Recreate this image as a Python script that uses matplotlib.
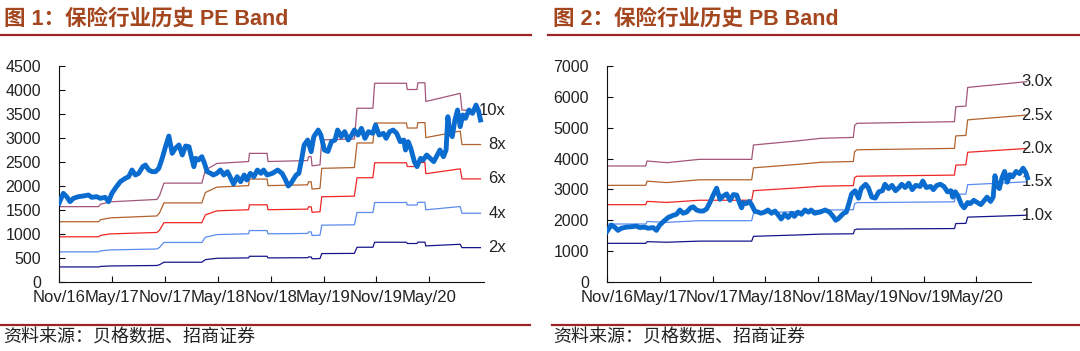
import numpy as np
import matplotlib.pyplot as plt
from matplotlib.lines import Line2D

plt.rcParams['font.family'] = ['Liberation Sans', 'Noto Sans CJK SC', 'DejaVu Sans']

# months counted from Nov/2016
tick_labels = ["Nov/16", "May/17", "Nov/17", "May/18",
               "Nov/18", "May/19", "Nov/19", "May/20"]

# insurance index (same series in both charts)
index_months = [0.0, 0.49, 0.87, 1.25, 1.63, 2.2, 2.77, 3.34, 3.72, 4.29,
                4.67, 5.24, 5.62, 6.0, 6.38, 6.95, 7.52, 7.9, 8.28, 8.66,
                9.04, 9.5, 9.8, 10.18, 10.56, 10.94, 11.32, 11.7, 12.08, 12.46,
                12.84, 13.2, 13.6, 13.98, 14.36, 14.74, 15.1, 15.3, 15.5, 15.8,
                16.2, 16.5, 16.8, 17.2, 17.5, 17.9, 18.3, 18.7, 19.1, 19.4,
                19.8, 20.2, 20.6, 21.0, 21.3, 21.7, 22.1, 22.5, 22.9, 23.2,
                23.6, 24.2, 24.8, 25.3, 25.7, 26.0, 26.3, 26.9, 27.2, 27.5,
                27.8, 28.2, 28.6, 28.9, 29.4, 29.7, 30.1, 30.5, 30.9, 31.3,
                31.6, 32.0, 32.4, 32.8, 33.2, 33.5, 33.9, 34.3, 34.7, 35.1,
                35.6, 35.9, 36.3, 36.8, 37.1, 37.5, 37.9, 38.3, 38.7, 39.1,
                39.3, 39.6, 39.9, 40.3, 40.6, 41.0, 41.3, 41.7, 42.1, 42.5,
                42.8, 43.2, 43.6, 43.9, 44.1, 44.3, 44.6, 44.9, 45.2, 45.5,
                45.8, 46.1, 46.5, 46.9, 47.3, 47.6, 47.8]
index_values = [1639, 1847, 1778, 1673, 1743, 1778, 1792, 1812, 1764, 1778,
                1743, 1764, 1673, 1847, 1951, 2090, 2160, 2194, 2333, 2229,
                2264, 2403, 2437, 2333, 2299, 2299, 2368, 2576, 2819, 3041,
                2680, 2785, 2854, 2646, 2833, 2819, 2541, 2403, 2576, 2541,
                2611, 2472, 2299, 2264, 2229, 2264, 2333, 2229, 2299, 2194,
                2042, 2194, 2090, 2229, 2125, 2264, 2194, 2333, 2264, 2333,
                2229, 2264, 2333, 2264, 2125, 2000, 2055, 2229, 2264, 2541,
                2854, 2958, 2715, 3028, 3166, 3062, 2750, 2720, 2923, 2958,
                3166, 3028, 3132, 2958, 3062, 3166, 3062, 3201, 2993, 3132,
                3097, 3271, 3062, 3097, 2993, 3132, 3166, 3097, 2923, 2958,
                2750, 2923, 2785, 2507, 2403, 2576, 2541, 2646, 2576, 2507,
                2611, 2750, 2611, 2750, 3444, 3167, 3028, 3375, 3583, 3236,
                3479, 3410, 3583, 3514, 3687, 3548, 3375]

# PE band: earnings base, bands are multiples of it
pe_months = [0, 4.5, 4.7, 5.8, 11.1, 11.4, 11.9, 16.2, 16.6, 17.9, 21.5,
             21.6, 23.6, 23.7, 28.2, 28.3, 28.6, 28.7, 29.6, 29.8, 33.5,
             33.8, 35.6, 35.8, 39.4, 39.5, 40.6, 40.7, 41.5, 41.6, 45.5,
             45.7, 47.8]
pe_base = [157, 157, 162, 167, 172, 180, 206, 206, 233, 247, 251,
           268, 268, 251, 253, 261, 261, 242, 244, 296, 298,
           362, 362, 414, 414, 401, 401, 415, 415, 376, 393,
           358, 358]
pe_multiples = [2, 4, 6, 8, 10]
pe_labels = ["2x", "4x", "6x", "8x", "10x"]

# PB band: book value base
pb_months = [0, 4.4, 4.55, 6.8, 10.5, 16.45, 16.65, 21.8, 24.3, 28.0,
             28.15, 28.4, 39.5, 39.65, 40.8, 41.0, 47.7]
pb_base = [1253, 1253, 1307, 1289, 1325, 1325, 1480, 1526, 1552, 1562,
           1690, 1714, 1732, 1894, 1900, 2102, 2164]
pb_multiples = [1.0, 1.5, 2.0, 2.5, 3.0]
pb_labels = ["1.0x", "1.5x", "2.0x", "2.5x", "3.0x"]

band_colors = ["#15158A", "#5A8CEE", "#F02626", "#B2622E", "#A2567A"]
index_color = "#0A6CCF"
title_color = "#A4461E"
rule_color = "#9C2525"


def draw_band(ax, base_months, base_vals, multiples, labels, ymax, ystep):
    """
    Draws the band lines, the index and the band labels on one axes
    """
    base_vals = np.array(base_vals, dtype=float)
    for mult, lab, col in zip(multiples, labels, band_colors):
        band = base_vals * mult
        ax.plot(base_months, band, color=col, lw=0.9, zorder=2)
        ax.text(50.7, band[-1], lab, ha="right", va="center",
                fontsize=12, color="#222222")

    ax.plot(index_months, index_values, color=index_color, lw=3.5,
            solid_joinstyle="round", zorder=3)

    ax.set_xlim(0, 48.2)
    ax.set_ylim(0, ymax)
    ax.set_yticks(np.arange(0, ymax + 1, ystep))
    ax.set_xticks(np.arange(0, 43, 6))
    ax.set_xticklabels(tick_labels)

    for side in ["top", "right"]:
        ax.spines[side].set_visible(False)
    for side in ["left", "bottom"]:
        ax.spines[side].set_linewidth(0.8)
        ax.spines[side].set_color("#111111")

    ax.tick_params(axis="y", direction="in", length=4, width=0.8,
                   labelsize=11.5, pad=13, colors="#111111",
                   labelcolor="#222222")
    ax.tick_params(axis="x", direction="in", length=4, width=0.8,
                   labelsize=12, pad=6, colors="#111111",
                   labelcolor="#222222")


fig = plt.figure(figsize=(10.8, 3.51), dpi=100)

ax1 = fig.add_axes([59 / 1080, 69 / 351, 425 / 1080, 216 / 351])
draw_band(ax1, pe_months, pe_base, pe_multiples, pe_labels, 4500, 500)

ax2 = fig.add_axes([607 / 1080, 69 / 351, 424 / 1080, 216 / 351])
draw_band(ax2, pb_months, pb_base, pb_multiples, pb_labels, 7000, 1000)

# titles and rules
fig.text(4 / 1080, 1 - 19 / 351, "图 1：保险行业历史 PE Band", fontsize=15.5,
         fontweight="bold", color=title_color, va="center", ha="left")
fig.text(553 / 1080, 1 - 19 / 351, "图 2：保险行业历史 PB Band", fontsize=15.5,
         fontweight="bold", color=title_color, va="center", ha="left")

for x0, x1 in [(0, 531), (548, 1080)]:
    fig.add_artist(Line2D([x0 / 1080, x1 / 1080], [1 - 34.5 / 351] * 2,
                          color=rule_color, lw=1.6))
for x0, x1 in [(0, 530), (552, 1080)]:
    fig.add_artist(Line2D([x0 / 1080, x1 / 1080], [1 - 325 / 351] * 2,
                          color=rule_color, lw=1.6))

# sources
for x0 in [3, 553]:
    fig.text(x0 / 1080, 1 - 338 / 351, "资料来源：贝格数据、招商证券",
             fontsize=13, color="#222222", va="center", ha="left",
             family=["Noto Sans CJK SC", "DejaVu Sans"])

fig.savefig("out.png", dpi=100)
